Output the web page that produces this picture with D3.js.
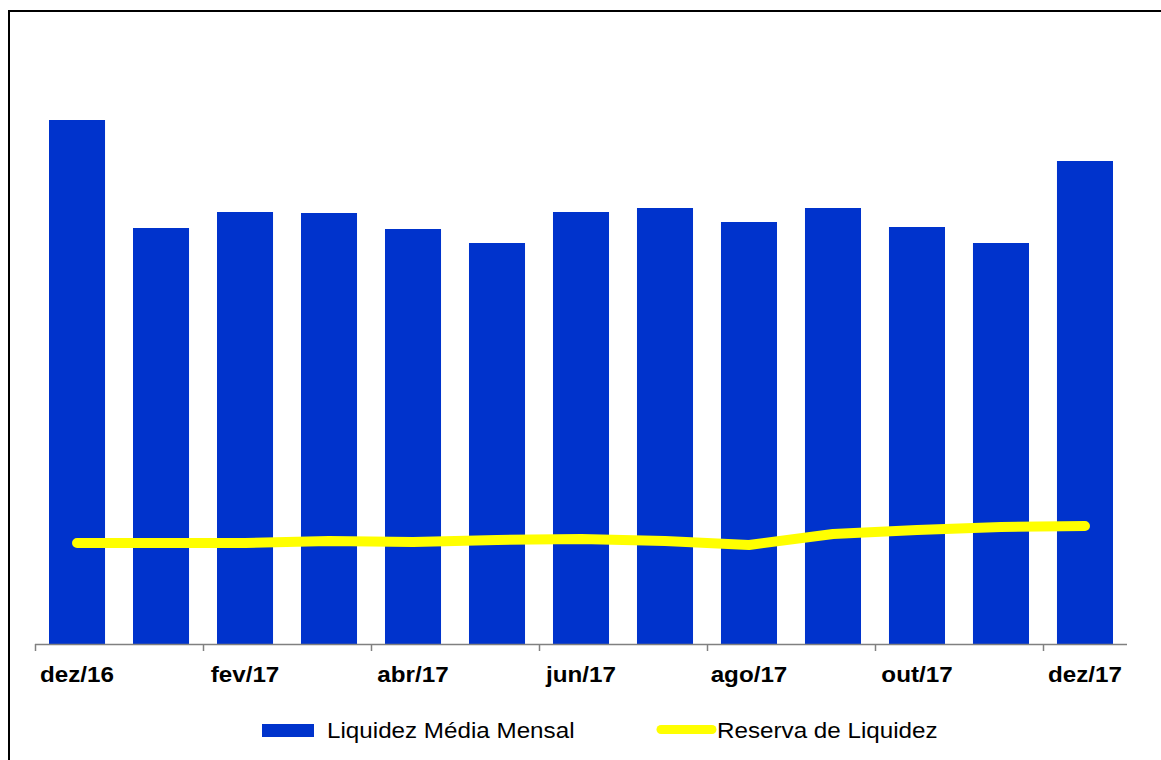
<!DOCTYPE html>
<html>
<head>
<meta charset="utf-8">
<script src="https://cdn.jsdelivr.net/npm/d3@7"></script>
<style>
  body { margin: 0; background: #fff; }
  svg { display: block; font-family: "Liberation Sans", Arial, sans-serif; }
</style>
</head>
<body>
<script>
// dados
var months = ["dez/16", "jan/17", "fev/17", "mar/17", "abr/17", "mai/17", "jun/17",
              "jul/17", "ago/17", "set/17", "out/17", "nov/17", "dez/17"];
var liquidezMedia = [524, 416, 432, 431, 415, 401, 432, 436, 422, 436, 417, 401, 483];
var reservaLiquidez = [101, 101, 101, 103, 102, 104, 105, 103, 99, 110, 114, 117, 118];
var labelMonths = ["dez/16", "fev/17", "abr/17", "jun/17", "ago/17", "out/17", "dez/17"];

var width = 1161, height = 760;
var svg = d3.select("body").append("svg")
    .attr("width", width)
    .attr("height", height);

// texto um pouco mais largo, como no original
function widen(sel) {
    sel.each(function() {
        var w = this.getComputedTextLength();
        d3.select(this)
            .attr("textLength", w * 1.1)
            .attr("lengthAdjust", "spacingAndGlyphs");
    });
}

// moldura
svg.append("rect")
    .attr("x", 9).attr("y", 11)
    .attr("width", 1200).attr("height", 800)
    .attr("fill", "none")
    .attr("stroke", "#000")
    .attr("stroke-width", 2);

var x = d3.scaleBand()
    .domain(months)
    .range([35, 1127])
    .paddingInner(0.333)
    .paddingOuter(0.1667);

var y = d3.scaleLinear()
    .domain([0, 600])
    .range([644, 44]);

svg.selectAll(".bar")
    .data(months)
    .enter()
    .append("rect")
    .attr("class", "bar")
    .attr("x", function(d) { return x(d); })
    .attr("y", function(d, i) { return y(liquidezMedia[i]); })
    .attr("width", x.bandwidth())
    .attr("height", function(d, i) { return y(0) - y(liquidezMedia[i]); })
    .attr("fill", "#0033CC");

// eixo x
var gap = x.step() * x.paddingInner() / 2;
svg.append("line")
    .attr("x1", 35).attr("x2", 1127)
    .attr("y1", y(0) + 0.5).attr("y2", y(0) + 0.5)
    .attr("stroke", "#808080")
    .attr("stroke-width", 1.5);

svg.selectAll(".tick")
    .data(months.filter(function(d, i) { return i % 2 === 0; }))
    .enter()
    .append("line")
    .attr("class", "tick")
    .attr("x1", function(d) { return Math.round(x(d) - gap) + 0.5; })
    .attr("x2", function(d) { return Math.round(x(d) - gap) + 0.5; })
    .attr("y1", y(0))
    .attr("y2", y(0) + 7)
    .attr("stroke", "#808080")
    .attr("stroke-width", 1.5);

svg.selectAll(".xlabel")
    .data(labelMonths)
    .enter()
    .append("text")
    .attr("class", "xlabel")
    .attr("x", function(d) { return x(d) + x.bandwidth() / 2; })
    .attr("y", 682)
    .attr("text-anchor", "middle")
    .attr("font-size", 22)
    .attr("font-weight", "bold")
    .attr("fill", "#000")
    .text(function(d) { return d; })
    .call(widen);

// linha de reserva
var line = d3.line()
    .x(function(d, i) { return x(months[i]) + x.bandwidth() / 2; })
    .y(function(d) { return y(d); });

svg.append("path")
    .datum(reservaLiquidez)
    .attr("d", line)
    .attr("fill", "none")
    .attr("stroke", "#FFFF00")
    .attr("stroke-width", 10)
    .attr("stroke-linecap", "round")
    .attr("stroke-linejoin", "round");

// legenda
var legend = svg.append("g");
legend.append("rect")
    .attr("x", 262).attr("y", 724)
    .attr("width", 52).attr("height", 13)
    .attr("fill", "#0033CC");
legend.append("text")
    .attr("x", 327).attr("y", 738)
    .attr("font-size", 22)
    .attr("fill", "#000")
    .text("Liquidez Média Mensal")
    .call(widen);
legend.append("line")
    .attr("x1", 661).attr("x2", 712)
    .attr("y1", 729.5).attr("y2", 729.5)
    .attr("stroke", "#FFFF00")
    .attr("stroke-width", 9)
    .attr("stroke-linecap", "round");
legend.append("text")
    .attr("x", 717).attr("y", 738)
    .attr("font-size", 22)
    .attr("fill", "#000")
    .text("Reserva de Liquidez")
    .call(widen);
</script>
</body>
</html>
